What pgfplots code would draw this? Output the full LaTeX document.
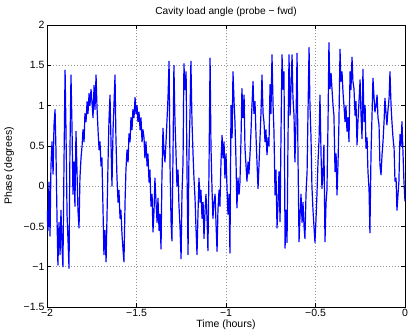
\documentclass[border=0pt]{standalone}
\usepackage{fontspec}
\setmainfont{Liberation Sans}
\usepackage{pgfplots}
\pgfplotsset{compat=1.18}
\usetikzlibrary{calc}
\pgfplotstableread{
x y
-2.000 -0.30
-1.994 -0.55
-1.989 0.05
-1.983 -0.62
-1.978 0.25
-1.972 0.55
-1.966 0.15
-1.961 0.75
-1.955 0.95
-1.950 0.45
-1.944 -0.40
-1.939 -0.98
-1.933 -0.45
-1.927 -0.85
-1.922 -0.30
-1.916 -0.75
-1.911 -1.00
-1.905 0.30
-1.899 1.44
-1.894 0.70
-1.888 -0.35
-1.883 -0.65
-1.877 -1.02
-1.872 0.40
-1.866 1.38
-1.860 0.70
-1.855 -0.10
-1.849 0.30
-1.844 -0.25
-1.838 0.68
-1.832 0.15
-1.827 -0.30
-1.821 -0.52
-1.816 0.10
-1.810 0.35
-1.804 0.50
-1.799 0.70
-1.793 0.55
-1.788 0.90
-1.782 0.80
-1.776 1.05
-1.771 0.90
-1.765 1.15
-1.760 1.00
-1.754 1.20
-1.749 1.05
-1.743 0.85
-1.737 1.25
-1.732 0.95
-1.726 1.38
-1.721 1.00
-1.715 0.70
-1.709 0.45
-1.704 0.55
-1.698 0.25
-1.693 0.35
-1.687 -0.30
-1.682 -0.85
-1.676 -0.55
-1.670 -0.94
-1.665 -0.40
-1.659 0.30
-1.654 0.80
-1.648 1.13
-1.642 0.50
-1.637 0.00
-1.631 0.70
-1.626 1.00
-1.620 1.38
-1.615 0.60
-1.609 0.10
-1.603 -0.20
-1.598 -0.05
-1.592 -0.40
-1.587 -0.30
-1.581 -0.60
-1.575 -0.80
-1.570 -0.94
-1.564 -0.20
-1.559 0.20
-1.553 0.45
-1.547 0.30
-1.542 0.65
-1.536 0.55
-1.531 0.85
-1.525 0.70
-1.520 0.95
-1.514 0.85
-1.508 1.10
-1.503 0.90
-1.497 1.00
-1.492 0.80
-1.486 0.92
-1.480 0.70
-1.475 0.85
-1.469 0.55
-1.464 0.70
-1.458 0.60
-1.453 0.35
-1.447 0.55
-1.441 0.25
-1.436 0.40
-1.430 0.05
-1.425 0.20
-1.419 -0.25
-1.413 -0.10
-1.408 -0.57
-1.402 -0.30
-1.397 0.10
-1.391 -0.20
-1.385 -0.45
-1.380 -0.15
-1.374 -0.55
-1.369 -0.35
-1.363 -0.78
-1.358 0.10
-1.352 0.72
-1.346 0.40
-1.341 0.30
-1.335 0.55
-1.330 0.80
-1.324 1.10
-1.318 1.55
-1.313 0.30
-1.307 -0.44
-1.302 -0.68
-1.296 0.40
-1.291 1.50
-1.285 0.80
-1.279 0.39
-1.274 0.00
-1.268 0.20
-1.263 -0.23
-1.257 -0.50
-1.251 -0.90
-1.246 -0.10
-1.240 0.30
-1.235 1.52
-1.229 1.20
-1.223 1.42
-1.218 0.20
-1.212 -0.85
-1.207 0.39
-1.201 0.90
-1.196 1.55
-1.190 0.80
-1.184 0.39
-1.179 0.10
-1.173 -0.15
-1.168 -0.50
-1.162 -0.85
-1.156 -0.30
-1.151 0.10
-1.145 -0.20
-1.140 -0.05
-1.134 -0.40
-1.128 -0.20
-1.123 -0.65
-1.117 -0.30
-1.112 -0.10
-1.106 -0.40
-1.101 -0.80
-1.095 0.20
-1.089 1.59
-1.084 0.50
-1.078 -0.05
-1.073 -0.40
-1.067 -0.20
-1.061 -0.10
-1.056 -0.45
-1.050 -0.81
-1.045 -0.30
-1.039 -0.05
-1.034 -0.25
-1.028 0.30
-1.022 0.63
-1.017 0.35
-1.011 0.55
-1.006 0.10
-1.000 0.40
-0.994 -0.05
-0.989 -0.35
-0.983 -0.10
-0.978 -0.83
-0.972 1.00
-0.966 0.60
-0.961 1.42
-0.955 1.05
-0.950 0.80
-0.944 0.30
-0.939 -0.27
-0.933 0.10
-0.927 -0.10
-0.922 0.05
-0.916 0.60
-0.911 1.21
-0.905 0.85
-0.899 1.13
-0.894 0.47
-0.888 0.25
-0.883 0.06
-0.877 0.30
-0.872 0.15
-0.866 0.39
-0.860 0.70
-0.855 1.00
-0.849 1.30
-0.844 0.90
-0.838 1.05
-0.832 0.60
-0.827 0.30
-0.821 -0.03
-0.816 0.25
-0.810 0.59
-0.804 0.95
-0.799 1.38
-0.793 0.90
-0.788 0.80
-0.782 0.55
-0.777 0.70
-0.771 0.39
-0.765 0.60
-0.760 0.50
-0.754 1.26
-0.749 0.90
-0.743 1.63
-0.737 1.00
-0.732 0.68
-0.726 -0.11
-0.721 0.20
-0.715 -0.52
-0.709 -0.20
-0.704 0.18
-0.698 -0.44
-0.693 0.60
-0.687 1.63
-0.681 1.20
-0.676 1.42
-0.670 -0.77
-0.665 -0.30
-0.659 -0.70
-0.654 0.50
-0.648 1.63
-0.642 0.88
-0.637 1.20
-0.631 1.63
-0.626 1.10
-0.620 0.88
-0.615 0.30
-0.609 0.80
-0.603 1.65
-0.598 0.40
-0.592 -0.69
-0.587 -0.40
-0.581 -0.10
-0.575 -0.45
-0.570 -0.20
-0.564 -0.50
-0.559 -0.65
-0.553 -0.10
-0.547 0.18
-0.542 0.90
-0.536 1.72
-0.531 1.00
-0.525 0.60
-0.520 0.00
-0.514 -0.30
-0.508 -0.52
-0.503 -0.70
-0.497 -0.40
-0.492 -0.11
-0.486 0.30
-0.480 0.59
-0.475 1.13
-0.469 0.39
-0.464 -0.03
-0.458 0.20
-0.453 0.51
-0.447 -0.69
-0.441 -0.20
-0.436 -0.05
-0.430 0.80
-0.425 1.78
-0.419 1.21
-0.413 1.40
-0.408 1.21
-0.402 1.00
-0.397 0.88
-0.391 0.18
-0.385 0.40
-0.380 -0.11
-0.374 0.30
-0.369 0.80
-0.363 1.70
-0.358 1.30
-0.352 1.42
-0.346 1.15
-0.341 1.00
-0.335 0.80
-0.330 1.00
-0.324 0.68
-0.318 0.85
-0.313 0.55
-0.307 1.42
-0.302 1.20
-0.296 1.60
-0.291 1.30
-0.285 1.21
-0.279 0.88
-0.274 1.05
-0.268 0.51
-0.263 0.80
-0.257 1.05
-0.251 1.32
-0.246 0.90
-0.240 0.59
-0.235 1.45
-0.229 0.80
-0.223 1.00
-0.218 0.47
-0.212 0.60
-0.207 0.18
-0.201 -0.03
-0.196 -0.58
-0.190 0.39
-0.184 0.90
-0.179 1.34
-0.173 1.10
-0.168 0.92
-0.162 1.00
-0.156 1.13
-0.151 0.85
-0.145 0.76
-0.140 0.26
-0.134 0.14
-0.128 0.40
-0.123 0.55
-0.117 0.80
-0.112 1.09
-0.106 0.90
-0.101 0.76
-0.095 0.95
-0.089 1.09
-0.084 1.42
-0.078 1.00
-0.073 0.80
-0.067 0.60
-0.061 0.47
-0.056 0.06
-0.050 0.10
-0.045 -0.30
-0.039 -0.10
-0.034 0.06
-0.028 0.64
-0.022 0.50
-0.017 0.80
-0.011 0.40
-0.006 0.06
0.000 -0.19
}\phasedata
\begin{document}
\begin{tikzpicture}
\begin{axis}[
  scale only axis,
  width=358pt, height=282pt,
  xmin=-2, xmax=0, ymin=-1.5, ymax=2,
  xtick={-2,-1.5,-1,-0.5,0},
  xticklabels={−2,−1.5,−1,−0.5,0},
  ytick={-1.5,-1,-0.5,0,0.5,1,1.5,2},
  yticklabels={−1.5,−1,−0.5,0,0.5,1,1.5,2},
  tick align=inside,
  tick pos=both,
  major tick length=4pt,
  tick style={black, line width=0.5pt},
  grid=major,
  major grid style={dash pattern=on 0.7pt off 2.3pt, gray!85, line width=0.5pt},
  axis line style={black, line width=0.7pt},
  tick label style={font=\fontsize{10.5}{11}\selectfont},
  xticklabel style={yshift=1pt},
  yticklabel style={xshift=1pt},
  label style={font=\fontsize{10.5}{11}\selectfont},
  xlabel={Time (hours)},
  ylabel={Phase (degrees)},
  xlabel style={at={(axis description cs:0.5,-0.064)}, anchor=center},
  ylabel style={at={(axis description cs:-0.106,0.5)}, anchor=center},
  title={Cavity load angle (probe − fwd)},
  title style={font=\fontsize{10.2}{11}\selectfont, at={(axis description cs:0.5,1.052)}, anchor=center, yshift=-8pt},
]
\addplot[color={rgb,255:red,0;green,0;blue,255}, line width=1.2pt, line join=round] table[x=x, y=y] {\phasedata};
\end{axis}
\pgfresetboundingbox
\path[use as bounding box] ($(current axis.south west)+(-47pt,-28pt)$) rectangle ($(current axis.north east)+(3pt,25pt)$);
\end{tikzpicture}
\end{document}
